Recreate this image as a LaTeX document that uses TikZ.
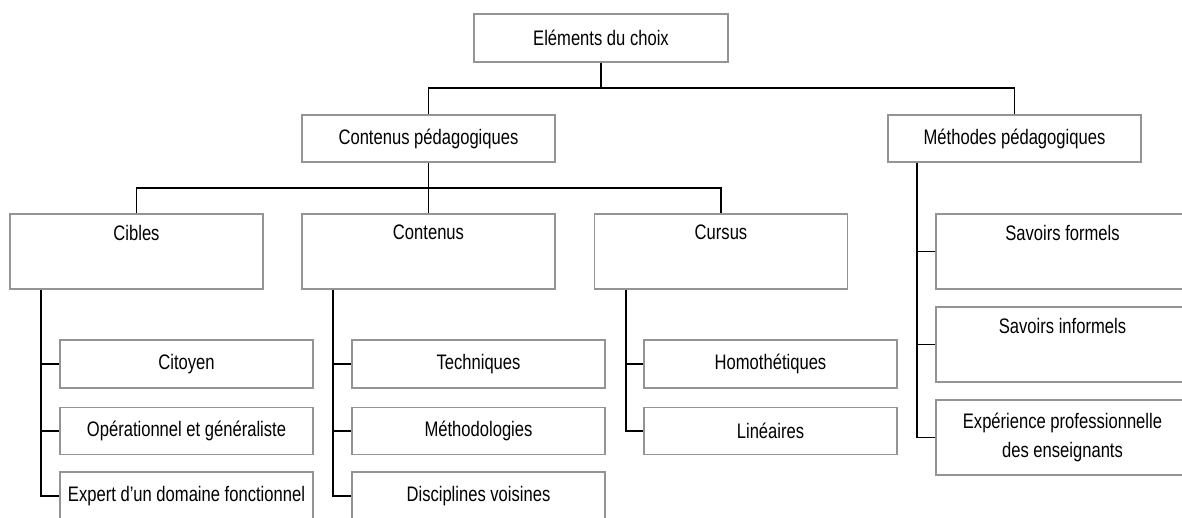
\documentclass[tikz,border=0pt]{standalone}
\usepackage{fontspec}
\setmainfont{Liberation Sans}[FakeStretch=0.79]
\begin{document}
\begin{tikzpicture}[x=1pt,y=-1pt,
  box/.style={draw=black!42, line width=1.5pt, fill=white, inner sep=0pt,
    minimum width=253pt, minimum height=48pt, align=center,
    font=\fontsize{21}{29}\selectfont},
  tallbox/.style={box, minimum height=75pt},
  conn/.style={draw=black, line width=1.7pt}]
\useasboundingbox (0,0) rectangle (1182,518);
\clip (0,0) rectangle (1182,518);
% level 1
\node[box, minimum width=254pt] (top) at (601,38) {Eléments du choix};
% level 2
\node[box, minimum height=47pt] (cp) at (428.5,138.5) {Contenus pédagogiques};
\node[box, minimum height=47pt] (mp) at (1014.5,138.5) {Méthodes pédagogiques};
% level 3
\node[tallbox] (cib) at (136.5,251.5) {Cibles\\\strut};
\node[tallbox] (con) at (428.5,251.5) {Contenus\\\strut};
\node[tallbox] (cur) at (721,251.5) {Cursus\\\strut};
% cibles children
\node[box] (c1) at (186.5,364) {Citoyen};
\node[box, minimum height=47pt] (c2) at (186.5,431) {Opérationnel et généraliste};
\node[box] (c3) at (186.5,496) {Expert d'un domaine fonctionnel};
% contenus children
\node[box] (t1) at (478.5,364) {Techniques};
\node[box, minimum height=47pt] (t2) at (478.5,431) {Méthodologies};
\node[box] (t3) at (478.5,496) {Disciplines voisines};
% cursus children
\node[box] (u1) at (770.5,364) {Homothétiques};
\node[box, minimum height=47pt] (u2) at (770.5,431) {Linéaires};
% methodes children
\node[tallbox] (m1) at (1062.5,251.5) {Savoirs formels\\\strut};
\node[tallbox] (m2) at (1062.5,344.5) {Savoirs informels\\\strut};
\node[tallbox] (m3) at (1062.5,437.5) {Expérience professionnelle\\des enseignants};
% bus coordinates
\coordinate (b1) at (0,88);
\coordinate (b2) at (0,188);
\coordinate (s1) at (41,0);
\coordinate (s2) at (333,0);
\coordinate (s3) at (626,0);
\coordinate (s4) at (917,0);
% connectors
\draw[conn] (top.south) -- (top.south |- b1);
\draw[conn] (cp.north) -- (cp.north |- b1) -| (mp.north);
\draw[conn] (cp.south) -- (con.north);
\draw[conn] (cib.north) -- (cib.north |- b2) -| (cur.north);
\draw[conn] (s1 |- cib.south) |- (c3.west);
\draw[conn] (s1 |- c1.west) -- (c1.west);
\draw[conn] (s1 |- c2.west) -- (c2.west);
\draw[conn] (s2 |- con.south) |- (t3.west);
\draw[conn] (s2 |- t1.west) -- (t1.west);
\draw[conn] (s2 |- t2.west) -- (t2.west);
\draw[conn] (s3 |- cur.south) |- (u2.west);
\draw[conn] (s3 |- u1.west) -- (u1.west);
\draw[conn] (s4 |- mp.south) |- (m3.west);
\draw[conn] (s4 |- m1.west) -- (m1.west);
\draw[conn] (s4 |- m2.west) -- (m2.west);
\end{tikzpicture}
\end{document}
